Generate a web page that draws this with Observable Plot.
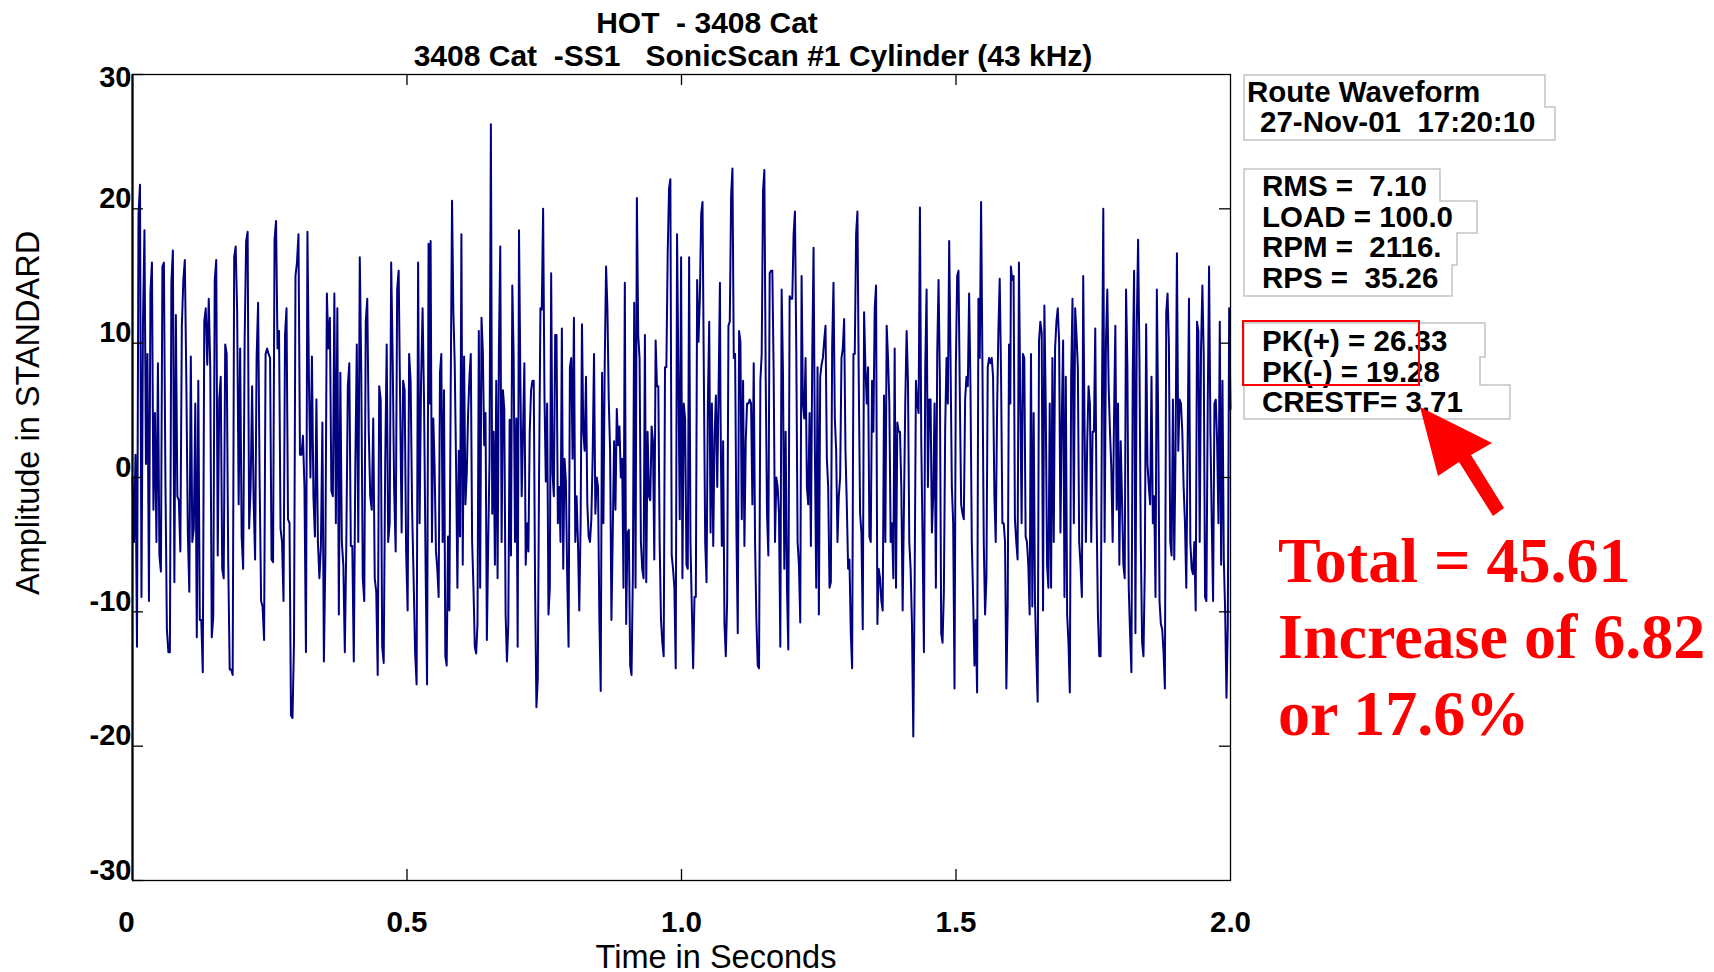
<!DOCTYPE html>
<html><head><meta charset="utf-8">
<script src="https://cdn.jsdelivr.net/npm/d3@7"></script>
<script src="https://cdn.jsdelivr.net/npm/@observablehq/plot@0.6"></script>
<style>
html,body{margin:0;padding:0;background:#fff;}
#wrap{position:relative;width:1714px;height:972px;overflow:hidden;}
#wrap svg{position:absolute;left:0;top:0;}
text{white-space:pre;}
</style>
</head><body><div id="wrap"></div>
<script>
// ---------- text content ----------
const titleLines = ["HOT  - 3408 Cat", "3408 Cat  -SS1   SonicScan #1 Cylinder (43 kHz)"];
const xLabel = "Time in Seconds";
const yLabel = "Amplitude in STANDARD";
const xTicks = [0, 0.5, 1.0, 1.5, 2.0];
const xTickLabels = ["0", "0.5", "1.0", "1.5", "2.0"];
const yTicks = [-30, -20, -10, 0, 10, 20, 30];
const headerLines = ["Route Waveform", "27-Nov-01  17:20:10"];
const statLines = ["RMS =  7.10", "LOAD = 100.0", "RPM =  2116.", "RPS =  35.26"];
const peakLines = ["PK(+) = 26.33", "PK(-) = 19.28", "CRESTF= 3.71"];
const noteLines = ["Total = 45.61", "Increase of 6.82", "or 17.6%"];

// ---------- waveform samples (four consecutive stretches) ----------
const seg1 = [0, -4.8, 1.7, -12.6, 19.5, 21.8, -8.9, 11.4, 18.4, 1.0, 9.2, -9.2, 13.8, 16.0, -2.4, 4.8, -4.8, 8.5, -5.8, -7.0, 15.7, 16.0, 0, -11.3, -13.0, -13.0, 14.5, 16.9, -7.8, 12.1, -1.4, -1.7, -5.5, 11.3, 14.7, 16.2, 7.2, -4.1, -8.5, 9.0, -4.8, -3.8, 5.5, -11.9, 7.2, -10.6, -10.6, -14.5, 11.6, 12.6, 8.4, 13.3, 8.2, -11.9, -10.4, 14.7, 16.2, -5.8, 5.8, 7.5, -6.8, -7.5, 9.9, 9.2, -6.1, -14.3, -14.3, -14.7, 16.4, 17.2, 12.3, -2.0, 9.6, -4.4, -6.8, 10.2, 17.6, 18.3, -3.8, -0.7, 6.8, -1.7, -6.1, 8.9, 13.0, 0, -9.2, -9.6, -12.1, 9.2, 9.6, 9.2, 8.9, -6.1, -6.3, 17.7, 19.1, 9.6, 10.9, -3.8, -4.8, -9.2, 10.6, 12.6, -3.1, -3.4, -17.7, -17.9, -12.3, 15.0, 16.0, 18.1, 1.7, 1.7, 3.1, -0.7, -13.0, 18.3, 7.2, 0, 9.0, -1.4, -4.4, 5.8, -4.8, -7.5, -5.1, 4.1, -13.7, -5.8, 13.7, 9.6, 11.9, -1.0, -1.4, 13.7, -3.4, 12.6, -10.2, 7.8, -4.8, -6.5, -13.0, -4.8, 6.8, 8.5, -5.1, -5.1, -13.7, 0.7, 9.9, -4.8, 16.4, 7.8, -7.5, -9.2, 11.6, 13.3, 3.4, -1.4, -2.4, 4.4, -7.5, -8.5, -14.7, 6.8, 5.8, -12.6, -13.8, 1.0, 9.9, -4.8, -3.4, 16.0, 8.9, -1.0, -5.5, 14.0, 15.4, 5.5, -4.1, 7.2, 6.5, -5.5, -9.9, 9.2, 7.2, -2.4, -7.5, -13.0, -15.4, 16.0, -3.4, 7.2, 12.6, 5.5, -6.5, -15.4, 17.4, 5.5];
const seg2 = [17.6, -4.8, 4.4, 0.7, -5.5, -6.8, -8.9, 7.8, 9.2, -4.8, 6.5, -13.3, -14.0, -4.4, -9.9, 6.5, 20.6, 12.3, 8.5, 1.0, -8.2, 2.0, -4.4, 18.1, -6.5, 9.0, -2.0, 0.3, 4.8, 7.5, 9.2, -4.8, -8.2, -12.6, -13.1, -10.9, 10.9, -8.2, 11.9, 9.4, 2.4, 4.8, -12.1, -4.8, 1.4, 26.3, -2.7, 3.4, -6.5, 7.2, -7.5, 9.6, 17.2, -4.8, 6.5, 5.1, -10.2, -13.7, -10.9, 4.3, -5.8, 14.3, 9.0, -4.8, 4.4, -12.6, 18.4, 7.5, -1.4, 3.4, 8.5, -6.5, -3.4, -5.5, 3.4, 6.5, 7.2, 7.2, -8.2, -17.1, -15.0, 0.5, 12.6, 12.5, 20.0, 6.1, -0.3, 5.5, -10.2, -8.2, 15.2, 0.3, -1.4, 10.6, 10.6, -3.4, -0.7, -4.8, 11.1, -6.8, 1.4, -0.3, -7.5, -12.6, 8.2, 8.9, 1.4, 11.9, -4.8, -1.4, -4.8, -9.9, -3.4, 11.4, 3.4, 2.0, 7.5, -2.0, -4.4, -4.8, -3.1, 1.7, 9.2, -2.7, 0, -0.7, -10.6, -15.9, 7.8, -3.4, 8.5, 15.7, 12.6, 5.8, 2.0, -10.6, -4.1, 2.7, -2.4, 5.1, 2.4, 3.8, 0, 1.4, -8.2, 14.5, -10.9, -4.1, -3.9, -14.0, -14.7, -7.2, 13.0, -8.2, 20.8, 10.6, 8.9, -4.8, -6.8, -7.5, 10.6, -7.8, 3.4, -1.4, -1.7, 3.8, 2.7, -6.1, 10.2, 6.8, 6.8, -4.8, -10.6, -12.3, -13.3, 8.2, 8.2, 16.7, 21.5, 22.2, -5.8, -6.8, -8.2, -14.2, 18.1, 7.5, -3.1, 16.4, -7.5, 5.5, 4.4, -6.5, -6.8, 16.4, -4.8, -9.6, -14.2, -8.9, -8.9, 14.7, 10.1, 13.3, 19.6, 20.5, 7.5, -4.8, -7.8, 5.5, 11.6, -4.1, 5.5, -5.1, 3.1, 6.1, -0.7, 6.5, 14.5];
const seg3 = [5.5, -5.1, 2.7, -10.9, -13.3, -9.2, 11.3, 11.6, 21.0, 23.0, 8.9, 9.2, -4.1, -11.6, 10.9, 10.1, -3.1, 7.2, -5.1, 2.7, 5.5, 5.5, 5.8, 5.5, -2.0, 8.5, -4.8, -10.6, -14.0, -14.2, 7.2, 9.2, 21.3, 22.9, 7.5, -2.7, -5.8, 15.2, 15.4, 15.4, 7.8, -4.8, 0, -0.7, -2.7, -12.6, 14.0, 7.8, -6.8, 3.4, -8.2, -12.8, 13.5, 13.3, 13.3, 18.1, 19.8, 9.6, -4.8, -6.5, -10.8, 15.0, 5.5, 4.4, 8.9, -0.7, -2.0, 4.8, -5.1, 8.9, 17.1, 2.0, -8.2, 8.2, -10.2, 7.5, 8.4, 8.9, 10.2, 11.3, 1.4, -0.7, -8.2, -7.8, 9.9, 14.5, 4.4, 2.0, -4.8, -1.4, 0, 8.9, 9.6, 11.8, 2.0, -2.0, -6.8, -6.1, -11.6, -14.2, 9.2, 9.2, 18.1, 19.8, 7.2, -2.7, -4.1, -11.3, 12.3, 8.2, 5.5, 8.2, -4.4, -4.8, 7.2, 3.4, 12.6, 14.3, -10.9, -6.8, -7.5, -9.2, -9.9, 6.1, -4.8, 11.3, 8.9, 5.5, -4.8, -3.4, -7.5, 9.6, -8.2, 4.1, 3.4, 3.4, -0.7, -9.9, -2.0, 5.8, 10.9, 7.2, -4.8, -6.8, -10.9, -19.28, -8.2, 7.2, 5.5, 4.8, 20.1, 2.7, -4.8, -13.0, 8.2, 14.0, -0.7, 5.8, 5.8, -4.1, -1.4, 5.5, -8.2, 9.2, 14.7, 7.2, -11.6, -12.3, -8.5, 3.8, 8.9, 5.5, 17.6, 8.9, -0.7, -3.4, -15.7, 8.2, 15.0, 15.4, 6.1, -2.0, -2.7, -3.1, 5.8, 7.5, 6.8, 13.7, 6.8, -4.8, -8.9, -14.0, -10.6, -16.0, 13.3, 8.9, 20.5, 8.5, -4.8, -10.2, -7.5, 8.2, 8.9, 8.5, 8.9, 7.5, -1.4, -4.8, 4.8, 10.9, 14.8, 7.8, -3.4, -3.4, -4.8, -15.7, -9.6, 9.9, 5.5];
const seg4 = [15.7, 14.7, 15.0, -3.1, -4.8, -6.1, 16.0, 6.1, -3.4, 9.2, 8.9, -4.4, -4.8, -6.5, -10.2, 9.2, -9.6, 4.8, -9.2, -13.3, -16.7, 10.2, 11.6, 10.8, -9.9, 12.8, 5.5, -6.5, -8.2, 5.5, -8.2, 8.9, -4.8, 9.6, 11.6, 12.6, 10.2, -4.1, 4.4, 10.2, -8.9, 7.5, -10.2, -12.3, -16.0, 7.5, 13.3, -3.4, 12.6, 10.6, 8.2, -4.8, -6.5, -8.9, 15.0, 3.8, -4.8, 2.7, 6.8, 5.5, -4.8, 3.4, 3.4, 11.1, -2.7, -10.2, -13.3, -13.3, 5.5, 20.0, -4.8, 10.2, 14.0, 6.8, 3.4, 0.7, -4.8, 4.3, 11.3, -2.4, 5.5, -6.5, 2.7, -1.7, -6.5, -7.5, 14.0, 8.2, -8.2, -11.6, -14.5, 7.8, 15.4, -11.6, 11.3, 17.7, 8.9, -4.8, -12.3, -13.3, -6.8, 11.4, 1.0, -0.7, -2.0, 7.5, -3.4, -1.4, -8.9, 14.0, 4.1, -9.2, -10.9, -11.3, -13.0, -15.7, 12.3, 13.7, 9.9, -4.8, -5.8, 5.8, -6.1, 2.4, 16.7, 2.0, 5.8, 5.5, 3.4, -0.7, -3.4, -8.2, 2.7, 13.3, -4.8, -6.8, -7.2, -4.8, -9.9, 11.6, 10.9, -4.8, 9.6, 14.3, 9.2, -8.9, -9.2, 5.5, 15.7, 3.4, -3.4, -9.2, 5.5, 5.8, 2.7, -3.4, 11.6, -6.5, 7.2, -6.1, -9.9, -16.4, -10.9, 12.6, 5.1];
// time span (seconds) covered by each stretch
const segSpans = [[0, 0.542], [0.543, 1.070], [1.071, 1.599], [1.600, 2.0]];

// ---------- build table ----------
const wave = [];
[seg1, seg2, seg3, seg4].forEach((seg, k) => {
  const [a, b] = segSpans[k];
  seg.forEach((v, i) => wave.push({t: a + (b - a) * i / (seg.length - 1), v}));
});

// ---------- layout ----------
const W = 1714, H = 972;
const M = {top: 74, right: 484, bottom: 92, left: 132};
const pw = W - M.left - M.right, ph = H - M.top - M.bottom;
const tickLen = 11;
const sans = "'Liberation Sans', Arial, Helvetica, sans-serif";
const serif = "'Liberation Serif', 'Times New Roman', serif";
const xLabelData = xTicks.map((x, i) => ({x, label: xTickLabels[i]}));

const chart = Plot.plot({
  width: W, height: H,
  marginTop: M.top, marginRight: M.right, marginBottom: M.bottom, marginLeft: M.left,
  x: {domain: [0, 2], axis: null},
  y: {domain: [-30, 30], axis: null},
  style: {fontFamily: sans, color: "black", background: "white"},
  marks: [
    Plot.line(wave, {x: "t", y: "v", stroke: "#000080", strokeWidth: 2}),
    Plot.frame({stroke: "black", strokeWidth: 1.3}),
    Plot.ruleX([0], {stroke: "black", strokeWidth: 2.2}),
    Plot.tickY(yTicks, {y: d => d, insetRight: pw - tickLen, stroke: "black", strokeWidth: 1.3}),
    Plot.tickY(yTicks.slice(1, -1), {y: d => d, insetLeft: pw - tickLen, stroke: "black", strokeWidth: 1.3}),
    Plot.tickX(xTicks.slice(1, -1), {x: d => d, insetTop: ph - tickLen, stroke: "black", strokeWidth: 1.3}),
    Plot.tickX(xTicks.slice(1, -1), {x: d => d, insetBottom: ph - tickLen, stroke: "black", strokeWidth: 1.3}),
    Plot.text(yTicks.filter(d => d !== 30), {y: d => d, text: d => String(d), frameAnchor: "left", textAnchor: "end", lineAnchor: "middle", dx: -1, dy: -10, fontSize: 29, fontWeight: "bold", fill: "black"}),
    Plot.text(yTicks.filter(d => d === 30), {y: d => d, text: d => String(d), frameAnchor: "left", textAnchor: "end", lineAnchor: "middle", dx: -1, dy: 3, fontSize: 29, fontWeight: "bold", fill: "black"}),
    Plot.text(xLabelData.slice(0, 1), {x: "x", text: "label", frameAnchor: "bottom", lineAnchor: "middle", dx: -6, dy: 42, fontSize: 29.5, fontWeight: "bold", fill: "black"}),
    Plot.text(xLabelData.slice(1), {x: "x", text: "label", frameAnchor: "bottom", lineAnchor: "middle", dy: 42, fontSize: 29.5, fontWeight: "bold", fill: "black"})
  ]
});
document.getElementById("wrap").appendChild(chart);

// ---------- overlay: titles, labels, info panel, annotation ----------
const ov = d3.select("#wrap").append("svg").attr("width", W).attr("height", H)
  .style("font-family", sans).style("pointer-events", "none");

const titlePos = [{x: 707, y: 33}, {x: 753, y: 66}];
ov.selectAll("text.title").data(titleLines).join("text").attr("class", "title")
  .attr("x", (d, i) => titlePos[i].x).attr("y", (d, i) => titlePos[i].y)
  .attr("text-anchor", "middle").attr("font-size", 30).attr("font-weight", "bold").text(d => d);

ov.append("text").attr("transform", "translate(39,413) rotate(-90)").attr("text-anchor", "middle")
  .attr("font-size", 32.5).text(yLabel);
ov.append("text").attr("x", 716).attr("y", 968).attr("text-anchor", "middle")
  .attr("font-size", 32.5).text(xLabel);

// info-box outlines (staircase per group)
const boxGroups = [
  {left: 1244, rows: [[75, 107, 1545], [107, 140, 1555]]},
  {left: 1244, rows: [[169, 201, 1440], [201, 233, 1477], [233, 265, 1457], [265, 296, 1452]]},
  {left: 1244, rows: [[323, 357, 1485], [357, 385, 1480], [385, 419, 1510]]}
];
boxGroups.forEach(g => {
  let p = `M${g.left},${g.rows[0][0]}`;
  g.rows.forEach(([y0, y1, r]) => { p += ` H${r} V${y1}`; });
  p += ` H${g.left} Z`;
  ov.append("path").attr("d", p).attr("fill", "white").attr("stroke", "#c4c4c4").attr("stroke-width", 1.5);
});

const panelFont = 29.5;
const panelText = [
  ...headerLines.map((t, i) => ({t, x: [1247, 1260][i], y: [102, 132][i]})),
  ...statLines.map((t, i) => ({t, x: 1262, y: [195.5, 226.5, 257, 288][i]})),
  ...peakLines.map((t, i) => ({t, x: 1262, y: [350.5, 381.5, 411.5][i]}))
];
ov.selectAll("text.panel").data(panelText).join("text").attr("class", "panel")
  .attr("x", d => d.x).attr("y", d => d.y).attr("font-size", panelFont).attr("font-weight", "bold")
  .attr("fill", "black").text(d => d.t);

// red highlight box around peaks
ov.append("rect").attr("x", 1243).attr("y", 321).attr("width", 176).attr("height", 64)
  .attr("fill", "none").attr("stroke", "#ff0000").attr("stroke-width", 2);

// red arrow
ov.append("polygon")
  .attr("points", "1420,407 1438,476 1459,462 1493,516 1504,508 1471,455 1492,443")
  .attr("fill", "#ff0000");

// red annotation text
ov.selectAll("text.note").data(noteLines).join("text").attr("class", "note")
  .attr("x", 1278).attr("y", (d, i) => [582, 658, 735][i])
  .attr("font-family", serif).attr("font-size", 64).attr("font-weight", "bold")
  .attr("fill", "#ff0000").text(d => d);
</script>
</body></html>
